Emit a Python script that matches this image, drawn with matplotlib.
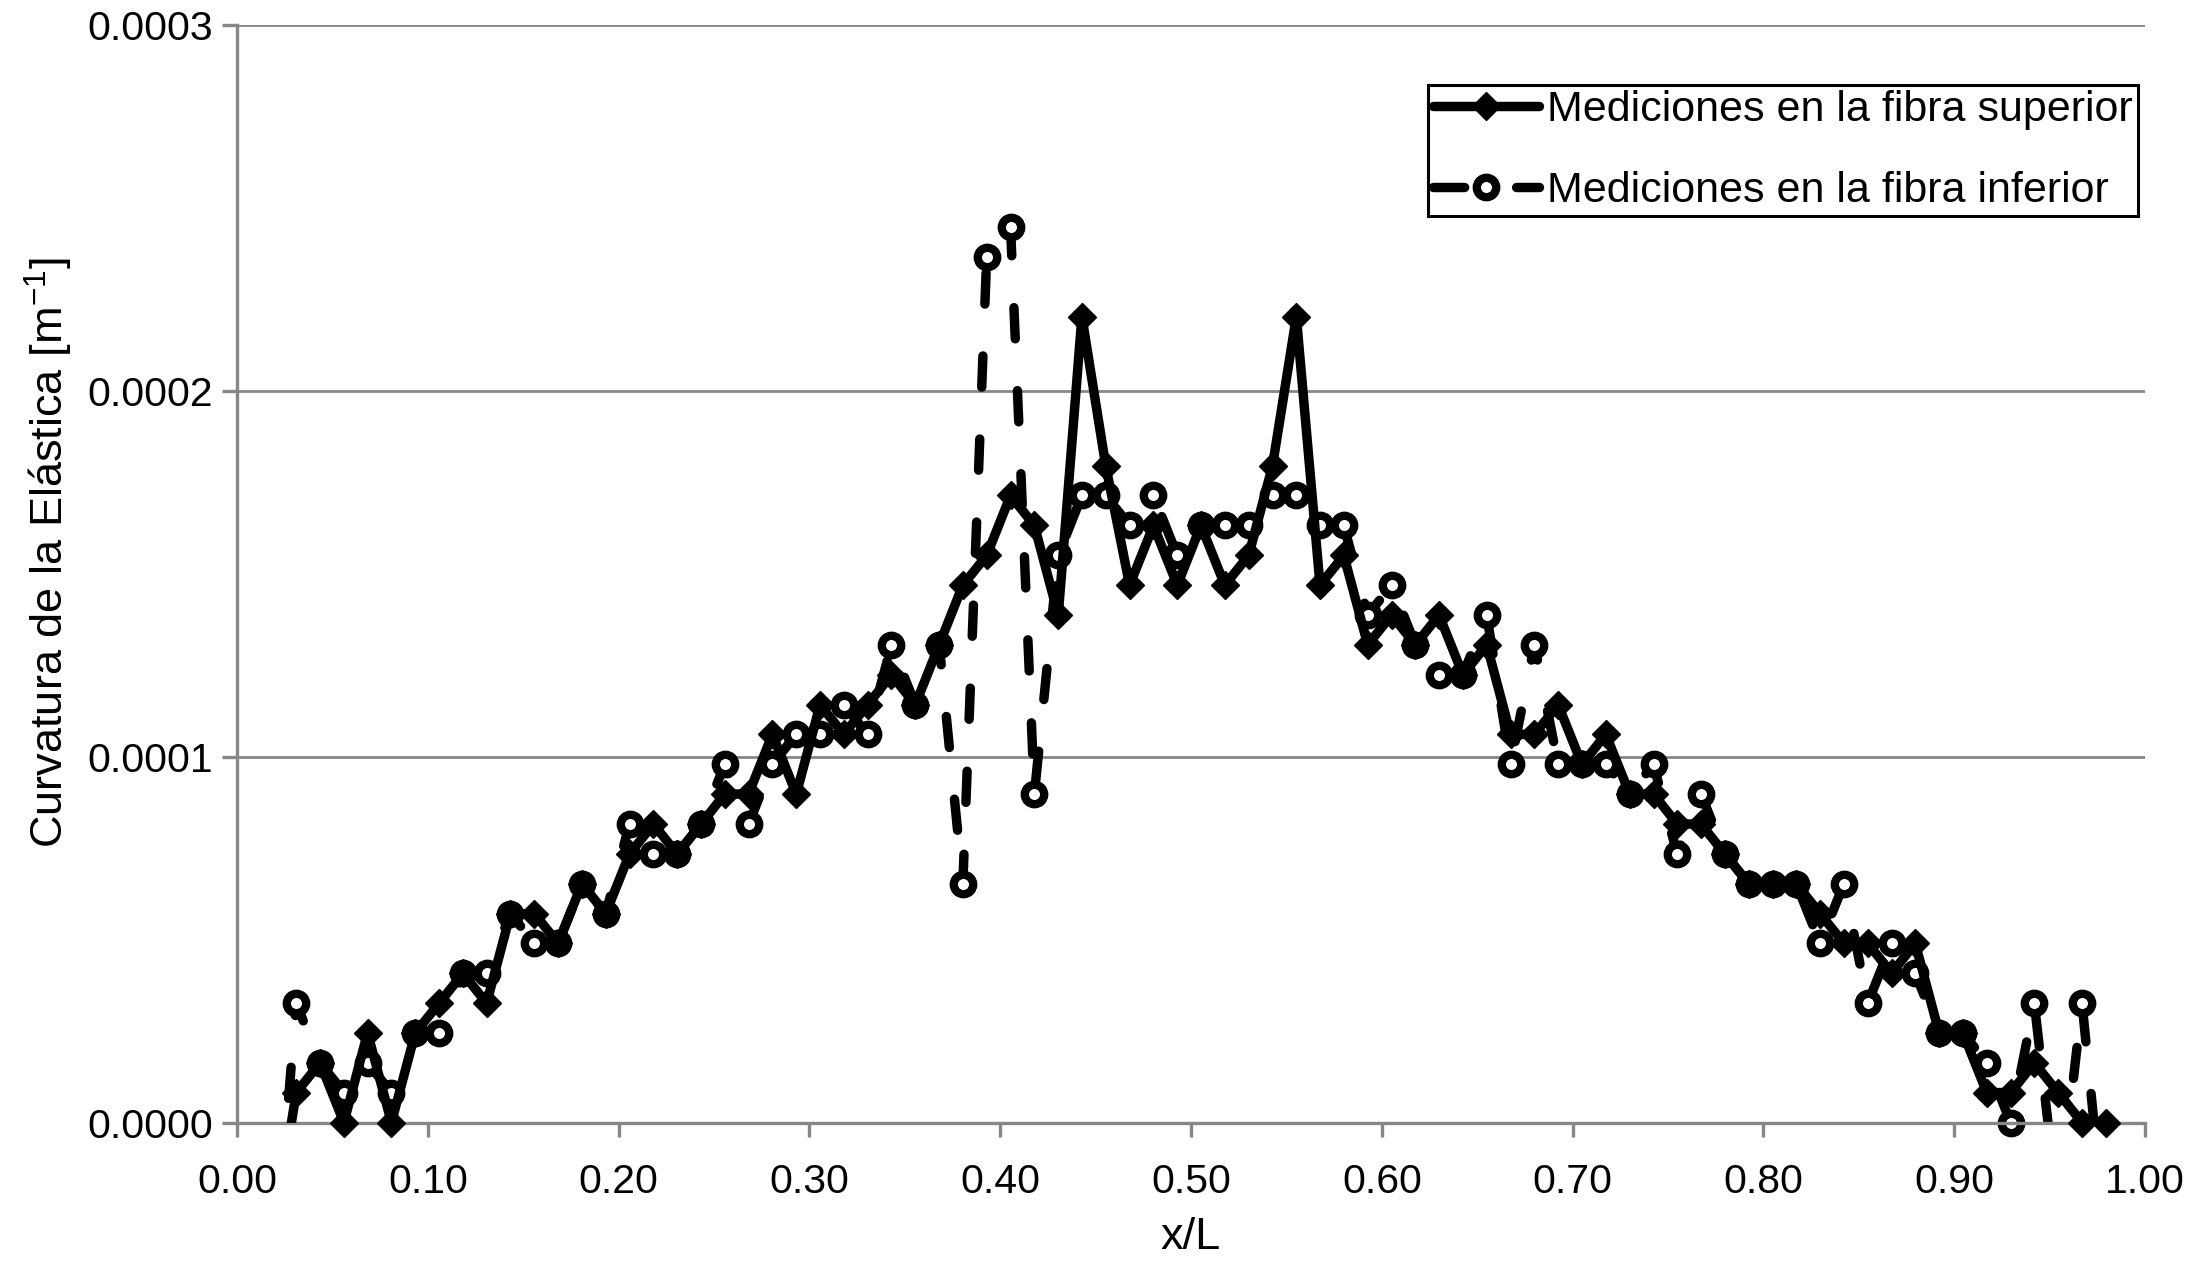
import matplotlib
matplotlib.use('Agg')
import matplotlib.pyplot as plt
from matplotlib.lines import Line2D
import numpy as np

plt.rcParams['font.family'] = ['Liberation Sans', 'DejaVu Sans']
plt.rcParams['mathtext.fontset'] = 'custom'
plt.rcParams['mathtext.rm'] = 'Liberation Sans'
plt.rcParams['mathtext.it'] = 'Liberation Sans:italic'
plt.rcParams['mathtext.default'] = 'regular'

# ---------------- data ----------------
x_over_L = [0.0185,
            0.0310, 0.0435, 0.0560, 0.0684, 0.0809, 0.0934, 0.1059, 0.1184, 0.1308, 0.1433,
            0.1558, 0.1683, 0.1808, 0.1932, 0.2057, 0.2182, 0.2307, 0.2432, 0.2556, 0.2681,
            0.2806, 0.2931, 0.3056, 0.3180, 0.3305, 0.3430, 0.3555, 0.3680, 0.3804, 0.3929,
            0.4054, 0.4179, 0.4304, 0.4428, 0.4553, 0.4678, 0.4803, 0.4928, 0.5052, 0.5177,
            0.5302, 0.5427, 0.5552, 0.5676, 0.5801, 0.5926, 0.6051, 0.6176, 0.6300, 0.6425,
            0.6550, 0.6675, 0.6800, 0.6924, 0.7049, 0.7174, 0.7299, 0.7424, 0.7548, 0.7673,
            0.7798, 0.7923, 0.8048, 0.8172, 0.8297, 0.8422, 0.8547, 0.8672, 0.8796, 0.8921,
            0.9046, 0.9171, 0.9296, 0.9420, 0.9545, 0.9670, 0.9795]

fibra_superior = [-3.26e-5,
                  8.2e-6, 1.63e-5, 0.0, 2.45e-5, 0.0, 2.45e-5, 3.26e-5, 4.08e-5, 3.26e-5, 5.71e-5,
                  5.71e-5, 4.90e-5, 6.53e-5, 5.71e-5, 7.34e-5, 8.16e-5, 7.34e-5, 8.16e-5, 8.98e-5, 8.98e-5,
                  1.061e-4, 8.98e-5, 1.142e-4, 1.061e-4, 1.142e-4, 1.224e-4, 1.142e-4, 1.306e-4, 1.469e-4, 1.550e-4,
                  1.714e-4, 1.632e-4, 1.387e-4, 2.203e-4, 1.795e-4, 1.469e-4, 1.632e-4, 1.469e-4, 1.632e-4, 1.469e-4,
                  1.550e-4, 1.795e-4, 2.203e-4, 1.469e-4, 1.550e-4, 1.306e-4, 1.387e-4, 1.306e-4, 1.387e-4, 1.224e-4,
                  1.306e-4, 1.061e-4, 1.061e-4, 1.142e-4, 9.79e-5, 1.061e-4, 8.98e-5, 8.98e-5, 8.16e-5, 8.16e-5,
                  7.34e-5, 6.53e-5, 6.53e-5, 6.53e-5, 5.71e-5, 4.90e-5, 4.90e-5, 4.08e-5, 4.90e-5, 2.45e-5,
                  2.45e-5, 8.2e-6, 8.2e-6, 1.63e-5, 8.2e-6, 0.0, 0.0]

fibra_inferior = [-4.90e-5,
                  3.26e-5, 1.63e-5, 8.2e-6, 1.63e-5, 8.2e-6, 2.45e-5, 2.45e-5, 4.08e-5, 4.08e-5, 5.71e-5,
                  4.90e-5, 4.90e-5, 6.53e-5, 5.71e-5, 8.16e-5, 7.34e-5, 7.34e-5, 8.16e-5, 9.79e-5, 8.16e-5,
                  9.79e-5, 1.061e-4, 1.061e-4, 1.142e-4, 1.061e-4, 1.306e-4, 1.142e-4, 1.306e-4, 6.53e-5, 2.366e-4,
                  2.448e-4, 8.98e-5, 1.550e-4, 1.714e-4, 1.714e-4, 1.632e-4, 1.714e-4, 1.550e-4, 1.632e-4, 1.632e-4,
                  1.632e-4, 1.714e-4, 1.714e-4, 1.632e-4, 1.632e-4, 1.387e-4, 1.469e-4, 1.306e-4, 1.224e-4, 1.224e-4,
                  1.387e-4, 9.79e-5, 1.306e-4, 9.79e-5, 9.79e-5, 9.79e-5, 8.98e-5, 9.79e-5, 7.34e-5, 8.98e-5,
                  7.34e-5, 6.53e-5, 6.53e-5, 6.53e-5, 4.90e-5, 6.53e-5, 3.26e-5, 4.90e-5, 4.08e-5, 2.45e-5,
                  2.45e-5, 1.63e-5, 0.0, 3.26e-5, -2.45e-5, 3.26e-5, -3.26e-5]

x_ticks = [0.0, 0.1, 0.2, 0.3, 0.4, 0.5, 0.6, 0.7, 0.8, 0.9, 1.0]
y_ticks = [0.0, 0.0001, 0.0002, 0.0003]
label_sup = 'Mediciones en la fibra superior'
label_inf = 'Mediciones en la fibra inferior'
x_label = 'x/L'
y_label = 'Curvatura de la Elástica [m$^{-1}$]'

# ---------------- style ----------------
GRAY = '#878787'
LW = 6.8
DASH = (0, (3.3, 5.5))
FS = 29.5
FS_LAB = 32.5
FS_LEG = 31
MS_D = 14
MS_O = 14
MEW_O = 6

fig = plt.figure(figsize=(21.89, 12.63), dpi=100)
ax = fig.add_axes([0.1083, 0.1112, 0.8716, 0.8690])

xs = np.array(x_over_L)
ys_sup = np.array(fibra_superior)
ys_inf = np.array(fibra_inferior)

# lower fibre (dashed, open circles) drawn first
ax.plot(xs, ys_inf, color='black', lw=LW, linestyle=DASH,
        dash_capstyle='round', solid_joinstyle='round', zorder=2)
m_inf = ys_inf >= 0
ax.plot(xs[m_inf], ys_inf[m_inf], linestyle='none', marker='o', ms=MS_O,
        mfc='white', mec='black', mew=MEW_O, zorder=2.1, clip_on=False)

# upper fibre (solid, diamonds) on top
ax.plot(xs, ys_sup, color='black', lw=LW, linestyle='-',
        solid_joinstyle='round', solid_capstyle='round', zorder=3)
m_sup = ys_sup >= 0
ax.plot(xs[m_sup], ys_sup[m_sup], linestyle='none', marker='D', ms=MS_D,
        mfc='black', mec='black', mew=1, zorder=3.1, clip_on=False)

ax.set_xlim(0, 1.0)
ax.set_ylim(0, 0.0003)
ax.set_xticks(x_ticks)
ax.set_yticks(y_ticks)
ax.set_xticklabels([f'{v:.2f}' for v in x_ticks])
ax.set_yticklabels([f'{v:.4f}' for v in y_ticks])

for s in ['top', 'right']:
    ax.spines[s].set_visible(False)
for s in ['left', 'bottom']:
    ax.spines[s].set_color(GRAY)
    ax.spines[s].set_linewidth(2.4)

ax.yaxis.grid(True, color=GRAY, lw=2.0)
ax.set_axisbelow(True)

ax.tick_params(axis='x', direction='out', length=10, width=2.4, color=GRAY,
               labelsize=FS, pad=19)
ax.tick_params(axis='y', direction='out', length=11, width=2.4, color=GRAY,
               labelsize=FS, pad=6)

ax.set_xlabel(x_label, fontsize=FS_LAB)
ax.xaxis.set_label_coords(0.5, -0.086)
ax.set_ylabel(y_label, fontsize=FS_LAB)
ax.yaxis.set_label_coords(-0.085, 0.519)

h_sup = Line2D([], [], color='black', lw=LW, marker='D', ms=MS_D, mfc='black',
               solid_capstyle='round')
h_inf = Line2D([], [], color='black', lw=LW, linestyle=DASH, marker='o', ms=MS_O,
               mfc='white', mec='black', mew=MEW_O, dash_capstyle='round')
leg = ax.legend([h_sup, h_inf], [label_sup, label_inf], loc='upper right',
                bbox_to_anchor=(0.9963, 0.9453), borderaxespad=0,
                fontsize=FS_LEG, frameon=True, fancybox=False, framealpha=1,
                edgecolor='black', handlelength=2.45, handletextpad=0.2,
                borderpad=0.12, labelspacing=0.95, numpoints=1)
leg.get_frame().set_linewidth(2.2)

fig.savefig('out.png', dpi=100)
